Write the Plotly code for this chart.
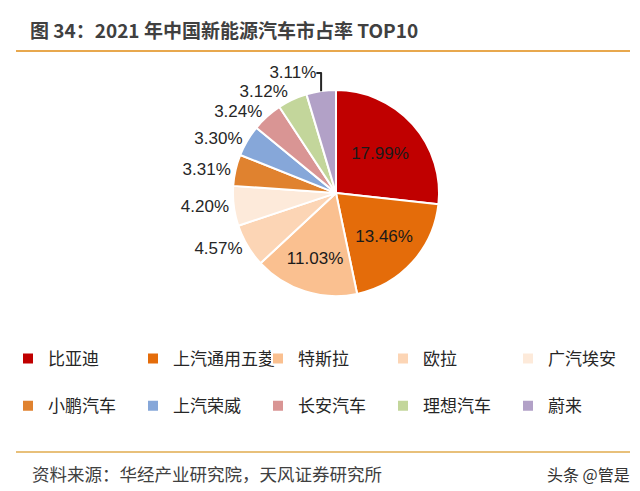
import plotly.graph_objects as go

brands = ["比亚迪", "上汽通用五菱", "特斯拉", "欧拉", "广汽埃安",
          "小鹏汽车", "上汽荣威", "长安汽车", "理想汽车", "蔚来"]
shares = [17.99, 13.46, 11.03, 4.57, 4.20, 3.31, 3.30, 3.24, 3.12, 3.11]
colors = ["#C00000", "#E46C0A", "#FAC090", "#FCD5B5", "#FDEADA",
          "#E0822F", "#86A7D9", "#D99594", "#C3D69B", "#B2A1C7"]

labels_txt = [f"{v:.2f}%" for v in shares]
positions = ["inside"] * 3 + ["outside"] * 7
# extra blank line gives the legend its taller row spacing
legend_names = [b + "<br> " for b in brands]

fig = go.Figure(go.Pie(
    labels=legend_names, values=shares, text=labels_txt, textinfo="text",
    textposition=positions, sort=False, direction="clockwise", rotation=0,
    marker=dict(colors=colors, line=dict(color="white", width=2)),
    insidetextorientation="horizontal",
    insidetextfont=dict(family="Liberation Sans, Arial", size=17, color="#1a1a1a"),
    outsidetextfont=dict(family="Liberation Sans, Arial", size=17, color="#262626"),
    domain=dict(x=[0.3515, 0.6735], y=[0.413, 0.833]),
    hoverinfo="text",
))

fig.update_layout(
    width=640, height=491,
    margin=dict(l=0, r=0, t=0, b=0, autoexpand=False),
    paper_bgcolor="white", plot_bgcolor="white",
    showlegend=True,
    legend=dict(orientation="h", x=0, xanchor="left", y=1-333/491, yanchor="top",
                entrywidth=80, entrywidthmode="pixels", itemwidth=30,
                traceorder="normal", valign="top",
                font=dict(family="Noto Sans CJK SC", size=17, color="#262626")),
    title=dict(text="<b>图 34：2021 年中国新能源汽车市占率 TOP10</b>",
               x=22/640, xanchor="left", xref="paper", y=1-23/491, yanchor="middle",
               font=dict(family="Noto Sans CJK SC", size=19, color="#404040")),
    shapes=[
        dict(type="line", xref="paper", yref="paper", x0=8/640, x1=622/640,
             y0=1-43/491, y1=1-43/491, line=dict(color="#E8A84E", width=2)),
        dict(type="line", xref="paper", yref="paper", x0=8/640, x1=622/640,
             y0=1-444/491, y1=1-444/491, line=dict(color="#E8C07A", width=2)),
    ],
    annotations=[
        dict(text="资料来源：华经产业研究院，天风证券研究所", xref="paper", yref="paper",
             x=22/640, y=1-465/491, xanchor="left", yanchor="middle", showarrow=False,
             font=dict(family="Noto Sans CJK SC", size=17.5, color="#404040")),
        dict(text="头条 @管是", xref="paper", yref="paper",
             x=624/640, y=1-466/491, xanchor="right", yanchor="middle", showarrow=False,
             font=dict(family="Noto Sans CJK SC", size=16, color="#333333")),
    ],
)

fig.write_html("out.html")
